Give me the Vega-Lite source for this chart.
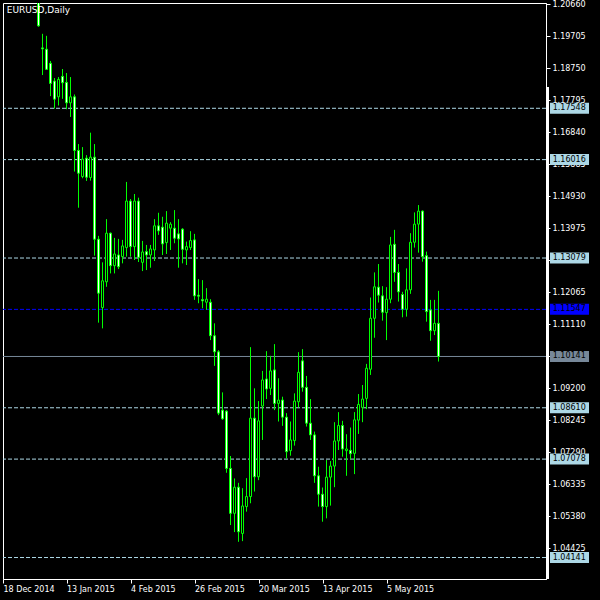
{
  "$schema": "https://vega.github.io/schema/vega-lite/v6.json",
  "autosize": {"type": "none"},
  "padding": {"left": 3, "top": 3, "right": 54, "bottom": 21},
  "width": 543,
  "height": 576,
  "background": "black",
  "view": {"stroke": "white", "strokeWidth": 1, "fill": "black"},
  "config": {
    "axis": {"grid": false, "title": null, "domainColor": "white", "tickColor": "white", "labelColor": "white", "labelFont": "DejaVu Sans", "labelFontSize": 8, "labelFlush": false, "labelOverlap": false, "labelBound": false, "zindex": 0}
  },
  "datasets": {
    "bars": [
      {"i": 9, "d": "2015-01-02", "o": 1.2098, "h": 1.2104, "l": 1.1998, "c": 1.2001},
      {"i": 10, "d": "2015-01-05", "o": 1.1935, "h": 1.1977, "l": 1.1854, "c": 1.1932},
      {"i": 11, "d": "2015-01-06", "o": 1.1931, "h": 1.1971, "l": 1.1869, "c": 1.1871},
      {"i": 12, "d": "2015-01-07", "o": 1.1889, "h": 1.1896, "l": 1.1791, "c": 1.1829},
      {"i": 13, "d": "2015-01-08", "o": 1.1836, "h": 1.1845, "l": 1.1754, "c": 1.1782},
      {"i": 14, "d": "2015-01-09", "o": 1.1789, "h": 1.1848, "l": 1.1763, "c": 1.1841},
      {"i": 15, "d": "2015-01-12", "o": 1.1850, "h": 1.1872, "l": 1.1783, "c": 1.1831},
      {"i": 16, "d": "2015-01-13", "o": 1.1832, "h": 1.1860, "l": 1.1752, "c": 1.1771},
      {"i": 17, "d": "2015-01-14", "o": 1.1771, "h": 1.1848, "l": 1.1729, "c": 1.1789},
      {"i": 18, "d": "2015-01-15", "o": 1.1789, "h": 1.1796, "l": 1.1566, "c": 1.1629},
      {"i": 19, "d": "2015-01-16", "o": 1.1629, "h": 1.1648, "l": 1.1458, "c": 1.1561},
      {"i": 20, "d": "2015-01-19", "o": 1.1551, "h": 1.1639, "l": 1.1546, "c": 1.1603},
      {"i": 21, "d": "2015-01-20", "o": 1.1606, "h": 1.1615, "l": 1.1538, "c": 1.1549},
      {"i": 22, "d": "2015-01-21", "o": 1.1548, "h": 1.1682, "l": 1.1539, "c": 1.1609},
      {"i": 23, "d": "2015-01-22", "o": 1.1609, "h": 1.1648, "l": 1.1315, "c": 1.1364},
      {"i": 24, "d": "2015-01-23", "o": 1.1364, "h": 1.1374, "l": 1.1115, "c": 1.1203},
      {"i": 25, "d": "2015-01-26", "o": 1.1160, "h": 1.1295, "l": 1.1098, "c": 1.1240},
      {"i": 26, "d": "2015-01-27", "o": 1.1237, "h": 1.1424, "l": 1.1222, "c": 1.1382},
      {"i": 27, "d": "2015-01-28", "o": 1.1382, "h": 1.1384, "l": 1.1262, "c": 1.1285},
      {"i": 28, "d": "2015-01-29", "o": 1.1285, "h": 1.1368, "l": 1.1262, "c": 1.1320},
      {"i": 29, "d": "2015-01-30", "o": 1.1317, "h": 1.1365, "l": 1.1275, "c": 1.1282},
      {"i": 30, "d": "2015-02-02", "o": 1.1312, "h": 1.1362, "l": 1.1292, "c": 1.1344},
      {"i": 31, "d": "2015-02-03", "o": 1.1339, "h": 1.1535, "l": 1.1312, "c": 1.1478},
      {"i": 32, "d": "2015-02-04", "o": 1.1478, "h": 1.1484, "l": 1.1312, "c": 1.1342},
      {"i": 33, "d": "2015-02-05", "o": 1.1342, "h": 1.1499, "l": 1.1302, "c": 1.1478},
      {"i": 34, "d": "2015-02-06", "o": 1.1478, "h": 1.1488, "l": 1.1296, "c": 1.1310},
      {"i": 35, "d": "2015-02-09", "o": 1.1295, "h": 1.1359, "l": 1.1269, "c": 1.1326},
      {"i": 36, "d": "2015-02-10", "o": 1.1327, "h": 1.1347, "l": 1.1272, "c": 1.1317},
      {"i": 37, "d": "2015-02-11", "o": 1.1317, "h": 1.1347, "l": 1.1279, "c": 1.1335},
      {"i": 38, "d": "2015-02-12", "o": 1.1332, "h": 1.1424, "l": 1.1299, "c": 1.1404},
      {"i": 39, "d": "2015-02-13", "o": 1.1404, "h": 1.1443, "l": 1.1377, "c": 1.1389},
      {"i": 40, "d": "2015-02-16", "o": 1.1400, "h": 1.1431, "l": 1.1317, "c": 1.1350},
      {"i": 41, "d": "2015-02-17", "o": 1.1354, "h": 1.1448, "l": 1.1320, "c": 1.1412},
      {"i": 42, "d": "2015-02-18", "o": 1.1397, "h": 1.1415, "l": 1.1332, "c": 1.1409},
      {"i": 43, "d": "2015-02-19", "o": 1.1397, "h": 1.1451, "l": 1.1352, "c": 1.1367},
      {"i": 44, "d": "2015-02-20", "o": 1.1380, "h": 1.1424, "l": 1.1279, "c": 1.1365},
      {"i": 45, "d": "2015-02-23", "o": 1.1394, "h": 1.1397, "l": 1.1292, "c": 1.1334},
      {"i": 46, "d": "2015-02-24", "o": 1.1332, "h": 1.1357, "l": 1.1287, "c": 1.1342},
      {"i": 47, "d": "2015-02-25", "o": 1.1339, "h": 1.1388, "l": 1.1332, "c": 1.1360},
      {"i": 48, "d": "2015-02-26", "o": 1.1362, "h": 1.1380, "l": 1.1183, "c": 1.1195},
      {"i": 49, "d": "2015-02-27", "o": 1.1197, "h": 1.1245, "l": 1.1173, "c": 1.1194},
      {"i": 50, "d": "2015-03-02", "o": 1.1184, "h": 1.1242, "l": 1.1158, "c": 1.1180},
      {"i": 51, "d": "2015-03-03", "o": 1.1176, "h": 1.1218, "l": 1.1153, "c": 1.1185},
      {"i": 52, "d": "2015-03-04", "o": 1.1176, "h": 1.1185, "l": 1.1063, "c": 1.1076},
      {"i": 53, "d": "2015-03-05", "o": 1.1076, "h": 1.1113, "l": 1.0986, "c": 1.1028},
      {"i": 54, "d": "2015-03-06", "o": 1.1028, "h": 1.1033, "l": 1.0839, "c": 1.0845},
      {"i": 55, "d": "2015-03-09", "o": 1.0854, "h": 1.0907, "l": 1.0825, "c": 1.0828},
      {"i": 56, "d": "2015-03-10", "o": 1.0851, "h": 1.0854, "l": 1.0667, "c": 1.0680},
      {"i": 57, "d": "2015-03-11", "o": 1.0680, "h": 1.0717, "l": 1.0511, "c": 1.0546},
      {"i": 58, "d": "2015-03-12", "o": 1.0546, "h": 1.0650, "l": 1.0490, "c": 1.0624},
      {"i": 59, "d": "2015-03-13", "o": 1.0624, "h": 1.0637, "l": 1.0461, "c": 1.0491},
      {"i": 60, "d": "2015-03-16", "o": 1.0486, "h": 1.0621, "l": 1.0463, "c": 1.0568},
      {"i": 61, "d": "2015-03-17", "o": 1.0566, "h": 1.0651, "l": 1.0551, "c": 1.0596},
      {"i": 62, "d": "2015-03-18", "o": 1.0596, "h": 1.1042, "l": 1.0576, "c": 1.0830},
      {"i": 63, "d": "2015-03-19", "o": 1.0830, "h": 1.0919, "l": 1.0611, "c": 1.0655},
      {"i": 64, "d": "2015-03-20", "o": 1.0655, "h": 1.0881, "l": 1.0645, "c": 1.0822},
      {"i": 65, "d": "2015-03-23", "o": 1.0866, "h": 1.0971, "l": 1.0765, "c": 1.0944},
      {"i": 66, "d": "2015-03-24", "o": 1.0947, "h": 1.1030, "l": 1.0887, "c": 1.0917},
      {"i": 67, "d": "2015-03-25", "o": 1.0919, "h": 1.1016, "l": 1.0899, "c": 1.0971},
      {"i": 68, "d": "2015-03-26", "o": 1.0974, "h": 1.1051, "l": 1.0854, "c": 1.0874},
      {"i": 69, "d": "2015-03-27", "o": 1.0874, "h": 1.0949, "l": 1.0820, "c": 1.0884},
      {"i": 70, "d": "2015-03-30", "o": 1.0884, "h": 1.0894, "l": 1.0807, "c": 1.0833},
      {"i": 71, "d": "2015-03-31", "o": 1.0833, "h": 1.0845, "l": 1.0710, "c": 1.0730},
      {"i": 72, "d": "2015-04-01", "o": 1.0733, "h": 1.0820, "l": 1.0718, "c": 1.0765},
      {"i": 73, "d": "2015-04-02", "o": 1.0763, "h": 1.0904, "l": 1.0748, "c": 1.0881},
      {"i": 74, "d": "2015-04-03", "o": 1.0879, "h": 1.1027, "l": 1.0862, "c": 1.0967},
      {"i": 75, "d": "2015-04-06", "o": 1.1001, "h": 1.1036, "l": 1.0909, "c": 1.0922},
      {"i": 76, "d": "2015-04-07", "o": 1.0922, "h": 1.0956, "l": 1.0805, "c": 1.0815},
      {"i": 77, "d": "2015-04-08", "o": 1.0815, "h": 1.0887, "l": 1.0765, "c": 1.0780},
      {"i": 78, "d": "2015-04-09", "o": 1.0780, "h": 1.0790, "l": 1.0637, "c": 1.0658},
      {"i": 79, "d": "2015-04-10", "o": 1.0658, "h": 1.0685, "l": 1.0566, "c": 1.0603},
      {"i": 80, "d": "2015-04-13", "o": 1.0603, "h": 1.0623, "l": 1.0521, "c": 1.0566},
      {"i": 81, "d": "2015-04-14", "o": 1.0566, "h": 1.0705, "l": 1.0531, "c": 1.0654},
      {"i": 82, "d": "2015-04-15", "o": 1.0654, "h": 1.0702, "l": 1.0569, "c": 1.0687},
      {"i": 83, "d": "2015-04-16", "o": 1.0687, "h": 1.0818, "l": 1.0624, "c": 1.0762},
      {"i": 84, "d": "2015-04-17", "o": 1.0762, "h": 1.0848, "l": 1.0735, "c": 1.0808},
      {"i": 85, "d": "2015-04-20", "o": 1.0808, "h": 1.0822, "l": 1.0715, "c": 1.0738},
      {"i": 86, "d": "2015-04-21", "o": 1.0733, "h": 1.0782, "l": 1.0658, "c": 1.0738},
      {"i": 87, "d": "2015-04-22", "o": 1.0734, "h": 1.0802, "l": 1.0707, "c": 1.0724},
      {"i": 88, "d": "2015-04-23", "o": 1.0725, "h": 1.0848, "l": 1.0663, "c": 1.0825},
      {"i": 89, "d": "2015-04-24", "o": 1.0824, "h": 1.0902, "l": 1.0783, "c": 1.0871},
      {"i": 90, "d": "2015-04-27", "o": 1.0862, "h": 1.0929, "l": 1.0818, "c": 1.0887},
      {"i": 91, "d": "2015-04-28", "o": 1.0889, "h": 1.0992, "l": 1.0857, "c": 1.0979},
      {"i": 92, "d": "2015-04-29", "o": 1.0976, "h": 1.1190, "l": 1.0959, "c": 1.1128},
      {"i": 93, "d": "2015-04-30", "o": 1.1128, "h": 1.1265, "l": 1.1070, "c": 1.1222},
      {"i": 94, "d": "2015-05-01", "o": 1.1221, "h": 1.1290, "l": 1.1175, "c": 1.1197},
      {"i": 95, "d": "2015-05-04", "o": 1.1195, "h": 1.1224, "l": 1.1121, "c": 1.1146},
      {"i": 96, "d": "2015-05-05", "o": 1.1145, "h": 1.1221, "l": 1.1063, "c": 1.1185},
      {"i": 97, "d": "2015-05-06", "o": 1.1185, "h": 1.1371, "l": 1.1173, "c": 1.1347},
      {"i": 98, "d": "2015-05-07", "o": 1.1349, "h": 1.1392, "l": 1.1237, "c": 1.1265},
      {"i": 99, "d": "2015-05-08", "o": 1.1265, "h": 1.1290, "l": 1.1178, "c": 1.1207},
      {"i": 100, "d": "2015-05-11", "o": 1.1199, "h": 1.1207, "l": 1.1131, "c": 1.1155},
      {"i": 101, "d": "2015-05-12", "o": 1.1155, "h": 1.1277, "l": 1.1133, "c": 1.1213},
      {"i": 102, "d": "2015-05-13", "o": 1.1213, "h": 1.1382, "l": 1.1201, "c": 1.1355},
      {"i": 103, "d": "2015-05-14", "o": 1.1355, "h": 1.1444, "l": 1.1339, "c": 1.1409},
      {"i": 104, "d": "2015-05-15", "o": 1.1409, "h": 1.1466, "l": 1.1324, "c": 1.1448},
      {"i": 105, "d": "2015-05-18", "o": 1.1448, "h": 1.1450, "l": 1.1297, "c": 1.1312},
      {"i": 106, "d": "2015-05-19", "o": 1.1315, "h": 1.1327, "l": 1.1118, "c": 1.1148},
      {"i": 107, "d": "2015-05-20", "o": 1.1153, "h": 1.1183, "l": 1.1061, "c": 1.1091},
      {"i": 108, "d": "2015-05-21", "o": 1.1091, "h": 1.1183, "l": 1.1078, "c": 1.1113},
      {"i": 109, "d": "2015-05-22", "o": 1.1113, "h": 1.1210, "l": 1.0999, "c": 1.10141}
    ],
    "levels": [
      {"price": 1.17548, "kind": "level"},
      {"price": 1.16016, "kind": "level"},
      {"price": 1.13079, "kind": "level"},
      {"price": 1.11547, "kind": "mid"},
      {"price": 1.10141, "kind": "bid"},
      {"price": 1.08610, "kind": "level"},
      {"price": 1.07078, "kind": "level"},
      {"price": 1.04141, "kind": "level"}
    ]
  },
  "layer": [
    {
      "data": {"name": "levels"},
      "mark": {"type": "rule", "strokeWidth": 1},
      "encoding": {
        "y": {"field": "price", "type": "quantitative", "scale": {"domain": [1.035, 1.2069], "nice": false, "zero": false, "padding": 0},
          "axis": {"orient": "right", "values": [1.2066, 1.19705, 1.1875, 1.17795, 1.1684, 1.15885, 1.1493, 1.13975, 1.1302, 1.12065, 1.1111, 1.10155, 1.092, 1.08245, 1.0729, 1.06335, 1.0538, 1.04425], "tickCount": 40, "format": ".5f", "tickSize": 4, "labelPadding": 2, "labelBaseline": "middle", "labelOverlap": false, "zindex": 0}},
        "color": {"field": "kind", "type": "nominal", "scale": {"domain": ["level", "mid", "bid"], "range": ["#add8e6", "#0000ff", "#778899"]}, "legend": null},
        "strokeDash": {"field": "kind", "type": "nominal", "scale": {"domain": ["level", "mid", "bid"], "range": [[4, 2], [4, 2], [1, 0]]}, "legend": null}
      }
    },
    {
      "data": {"name": "bars"},
      "mark": {"type": "rule", "color": "#00ff00", "strokeWidth": 1, "clip": true},
      "encoding": {
        "x": {"field": "i", "type": "quantitative", "scale": {"domain": [0.125, 135.875], "nice": false, "zero": false, "padding": 0},
          "axis": {"orient": "bottom", "values": [0.125, 16, 32, 48, 64, 80, 96], "tickCount": 40, "labelExpr": "['18 Dec 2014','13 Jan 2015','4 Feb 2015','26 Feb 2015','20 Mar 2015','13 Apr 2015','5 May 2015'][round(datum.value / 16)]", "tickSize": 4, "labelAlign": "left", "labelBaseline": "alphabetic", "labelPadding": 8, "labelOverlap": false, "zindex": 0}},
        "y": {"field": "l", "type": "quantitative"},
        "y2": {"field": "h"}
      }
    },
    {
      "data": {"name": "bars"},
      "mark": {"type": "bar", "size": 2, "stroke": "#00ff00", "strokeWidth": 1, "clip": true},
      "encoding": {
        "x": {"field": "i", "type": "quantitative"},
        "y": {"field": "o", "type": "quantitative"},
        "y2": {"field": "c"},
        "fill": {"condition": {"test": "datum.c < datum.o", "value": "white"}, "value": "black"}
      }
    },
    {
      "data": {"values": [{"lo": 1.035, "hi": 1.18183}]},
      "mark": {"type": "rule", "color": "white", "strokeWidth": 3},
      "encoding": {
        "x": {"datum": 136.25, "type": "quantitative"},
        "y": {"field": "lo", "type": "quantitative"},
        "y2": {"field": "hi"}
      }
    },
    {
      "data": {"name": "levels"},
      "mark": {"type": "bar", "orient": "horizontal", "size": 11},
      "encoding": {
        "x": {"datum": 136.875, "type": "quantitative"},
        "x2": {"datum": 146.625},
        "y": {"field": "price", "type": "quantitative"},
        "fill": {"field": "kind", "type": "nominal", "scale": {"domain": ["level", "mid", "bid"], "range": ["#add8e6", "#0000ff", "#778899"]}, "legend": null}
      }
    },
    {
      "data": {"name": "levels"},
      "mark": {"type": "text", "align": "left", "baseline": "middle", "font": "DejaVu Sans", "fontSize": 8, "color": "black"},
      "encoding": {
        "x": {"datum": 137.55, "type": "quantitative"},
        "y": {"field": "price", "type": "quantitative"},
        "text": {"field": "price", "type": "quantitative", "format": ".5f"}
      }
    },
    {
      "data": {"values": [{"label": "EURUSD,Daily"}]},
      "mark": {"type": "text", "align": "left", "baseline": "alphabetic", "font": "DejaVu Sans", "fontSize": 9, "color": "white"},
      "encoding": {
        "x": {"datum": 1.05, "type": "quantitative"},
        "y": {"datum": 1.20383, "type": "quantitative"},
        "text": {"field": "label"}
      }
    }
  ]
}
